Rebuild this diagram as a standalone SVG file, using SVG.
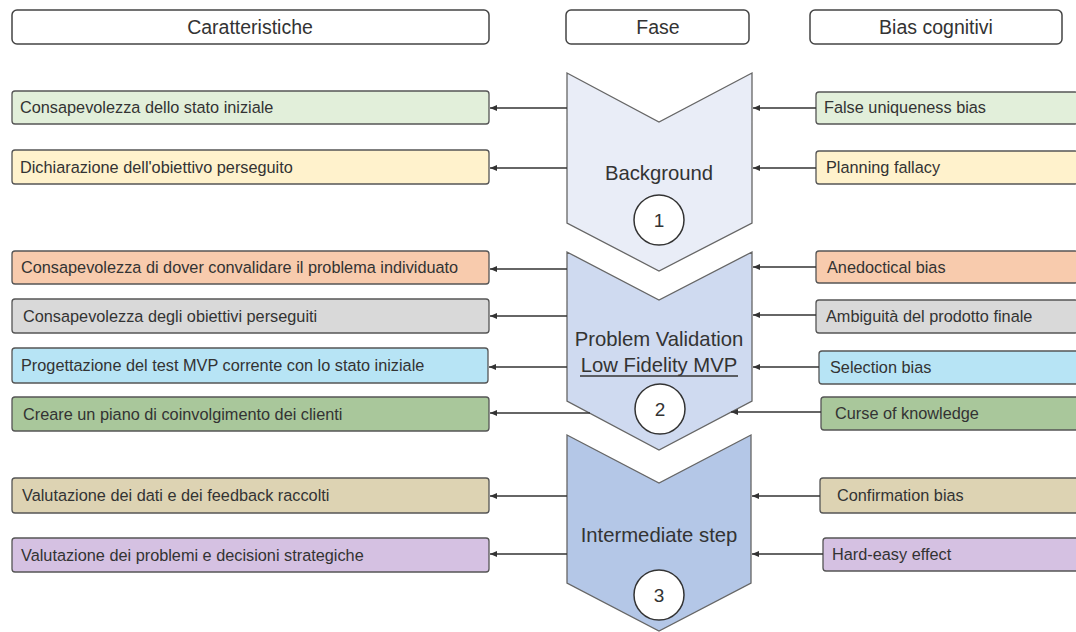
<svg xmlns="http://www.w3.org/2000/svg" width="1076" height="632" viewBox="0 0 1076 632">
<style>
text{font-family:"Liberation Sans",Arial,sans-serif;fill:#333}
.hdr{fill:#fff;stroke:#444;stroke-width:1.5}
.ht{font-size:19.5px;text-anchor:middle}
.box{stroke:#555;stroke-width:1.3}
.bt{font-size:16.3px}
.chev{stroke:#666;stroke-width:1.3}
.ct{font-size:20.3px;text-anchor:middle}
.circ{fill:#fff;stroke:#333;stroke-width:1.5}
.num{font-size:19px;text-anchor:middle}
.conn{stroke:#333;stroke-width:1.5;fill:none;marker-end:url(#ah)}
</style>
<defs>
<marker id="ah" markerUnits="userSpaceOnUse" markerWidth="8" markerHeight="6" refX="7" refY="3" orient="auto">
<path d="M0,0 L7,3 L0,6 Z" fill="#333"/>
</marker>
</defs>
<rect width="1076" height="632" fill="#fff"/>

<g id="header-caratteristiche"><rect class="hdr" x="12" y="10" width="477" height="34" rx="5"/><text class="ht" x="250" y="34">Caratteristiche</text></g>
<g id="header-fase"><rect class="hdr" x="566" y="10" width="183" height="34" rx="5"/><text class="ht" x="658" y="34">Fase</text></g>
<g id="header-bias"><rect class="hdr" x="810" y="10" width="252" height="34" rx="5"/><text class="ht" x="936" y="34">Bias cognitivi</text></g>

<g id="phase1"><path class="chev" fill="#e9edf7" d="M567,73 L659,122 L752,73 L752,223 L659,271 L567,223 Z"/><text class="ct" x="659" y="180">Background</text><circle class="circ" cx="659" cy="220" r="25"/><text class="num" x="659" y="227">1</text></g>
<g id="phase2"><path class="chev" fill="#cfdaf0" d="M567,252 L659,300 L752,252 L752,401 L659,450 L567,401 Z"/><text class="ct" x="659" y="346">Problem Validation</text><text class="ct" x="659" y="372">Low Fidelity MVP</text><line x1="580" y1="376" x2="738" y2="376" stroke="#333" stroke-width="1.5"/><circle class="circ" cx="660" cy="409" r="25"/><text class="num" x="660" y="416">2</text></g>
<g id="phase3"><path class="chev" fill="#b4c7e7" d="M567,435 L659,483 L751,435 L751,583 L659,631 L567,583 Z"/><text class="ct" x="659" y="542">Intermediate step</text><circle class="circ" cx="659" cy="595" r="25"/><text class="num" x="659" y="602">3</text></g>

<g id="left1"><rect class="box" fill="#e2efda" x="12" y="91" width="477" height="33" rx="3"/><text class="bt" x="20" y="113">Consapevolezza dello stato iniziale</text></g>
<g id="left2"><rect class="box" fill="#fff2cc" x="12" y="150" width="477" height="34" rx="3"/><text class="bt" x="20" y="173">Dichiarazione dell'obiettivo perseguito</text></g>
<g id="left3"><rect class="box" fill="#f8cbad" x="12" y="251" width="477" height="33" rx="3"/><text class="bt" x="21" y="273">Consapevolezza di dover convalidare il problema individuato</text></g>
<g id="left4"><rect class="box" fill="#d9d9d9" x="12" y="299" width="477" height="34" rx="3"/><text class="bt" x="23" y="322">Consapevolezza degli obiettivi perseguiti</text></g>
<g id="left5"><rect class="box" fill="#b7e4f5" x="12" y="348" width="476" height="35" rx="3"/><text class="bt" x="21" y="371">Progettazione del test MVP corrente con lo stato iniziale</text></g>
<g id="left6"><rect class="box" fill="#a9c79b" x="12" y="397" width="477" height="34" rx="3"/><text class="bt" x="23" y="420">Creare un piano di coinvolgimento dei clienti</text></g>
<g id="left7"><rect class="box" fill="#ddd3b3" x="12" y="478" width="477" height="35" rx="3"/><text class="bt" x="22" y="501">Valutazione dei dati e dei feedback raccolti</text></g>
<g id="left8"><rect class="box" fill="#d5c1e2" x="12" y="538" width="477" height="34" rx="3"/><text class="bt" x="21" y="561">Valutazione dei problemi e decisioni strategiche</text></g>

<g id="right1"><rect class="box" fill="#e2efda" x="816" y="92" width="262" height="32" rx="3"/><text class="bt" x="824" y="113">False uniqueness bias</text></g>
<g id="right2"><rect class="box" fill="#fff2cc" x="816" y="151" width="262" height="33" rx="3"/><text class="bt" x="826" y="173">Planning fallacy</text></g>
<g id="right3"><rect class="box" fill="#f8cbad" x="816" y="251" width="262" height="32" rx="3"/><text class="bt" x="827" y="273">Anedoctical bias</text></g>
<g id="right4"><rect class="box" fill="#d9d9d9" x="816" y="300" width="262" height="33" rx="3"/><text class="bt" x="826" y="322">Ambiguità del prodotto finale</text></g>
<g id="right5"><rect class="box" fill="#b7e4f5" x="819" y="351" width="262" height="33" rx="3"/><text class="bt" x="830" y="373">Selection bias</text></g>
<g id="right6"><rect class="box" fill="#a9c79b" x="821" y="397" width="262" height="33" rx="3"/><text class="bt" x="835" y="419">Curse of knowledge</text></g>
<g id="right7"><rect class="box" fill="#ddd3b3" x="820" y="478" width="262" height="35" rx="3"/><text class="bt" x="837" y="501">Confirmation bias</text></g>
<g id="right8"><rect class="box" fill="#d5c1e2" x="823" y="538" width="262" height="33" rx="3"/><text class="bt" x="832" y="560">Hard-easy effect</text></g>

<g id="connectors">
<line class="conn" x1="567" y1="108" x2="490" y2="108"/>
<line class="conn" x1="567" y1="168" x2="490" y2="168"/>
<line class="conn" x1="567" y1="269" x2="490" y2="269"/>
<line class="conn" x1="567" y1="316" x2="490" y2="316"/>
<line class="conn" x1="567" y1="367" x2="489" y2="367"/>
<line class="conn" x1="590" y1="413" x2="490" y2="413"/>
<line class="conn" x1="567" y1="496" x2="490" y2="496"/>
<line class="conn" x1="567" y1="554" x2="490" y2="554"/>
<line class="conn" x1="816" y1="108" x2="753" y2="108"/>
<line class="conn" x1="816" y1="168" x2="753" y2="168"/>
<line class="conn" x1="816" y1="267" x2="753" y2="267"/>
<line class="conn" x1="816" y1="315" x2="753" y2="315"/>
<line class="conn" x1="819" y1="367" x2="753" y2="367"/>
<line class="conn" x1="821" y1="412" x2="731" y2="412"/>
<line class="conn" x1="820" y1="496" x2="752" y2="496"/>
<line class="conn" x1="823" y1="554" x2="752" y2="554"/>
</g>
</svg>
